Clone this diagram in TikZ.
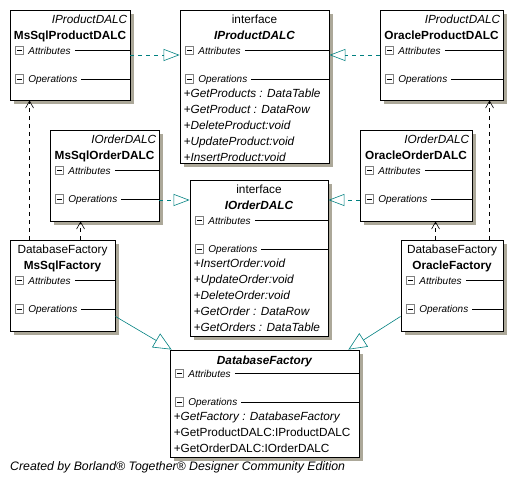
\documentclass[tikz,border=0pt]{standalone}
\usepackage{fontspec}
\setmainfont{Liberation Sans}
\usetikzlibrary{positioning, shadows, arrows.meta}

\definecolor{shadowgray}{RGB}{172,168,153}
\definecolor{linkteal}{RGB}{0,128,128}
\definecolor{boxgray}{RGB}{128,128,128}

\newcommand{\opfont}{\fontsize{11.8}{14}\selectfont}
\newcommand{\secfont}{\fontsize{10}{11}\selectfont\itshape}

\tikzset{
  umlclass/.style={draw, line width=0.9pt, fill=white, inner sep=0pt,
    drop shadow={shadow xshift=3.5pt, shadow yshift=-3.5pt, fill=shadowgray, opacity=1}},
  minusbox/.style={draw=boxgray, fill=white, line width=0.7pt, minimum size=8.5pt, inner sep=0pt,
    path picture={\draw[black, line width=0.7pt] ([xshift=2pt]path picture bounding box.west)
      -- ([xshift=-2pt]path picture bounding box.east);}},
  seclabel/.style={anchor=west, inner sep=0pt, text height=7pt, text depth=0pt, font=\secfont},
  stereo/.style={inner sep=0pt, font=\opfont},
  cname/.style={anchor=base, inner sep=0pt, font=\opfont\bfseries},
  optext/.style={anchor=base west, inner sep=0pt, font=\opfont},
  realize/.style={linkteal, line width=0.6pt, dash pattern=on 4pt off 4pt,
    -{Triangle[open, length=16pt, width=12pt]}},
  depend/.style={black, line width=0.6pt, dash pattern=on 4pt off 4pt,
    -{Straight Barb[length=7pt, width=8pt]}},
  inherit/.style={linkteal, line width=0.6pt, -{Triangle[open, length=18pt, width=16pt]}},
}

% compartments of class #1, attribute line #2 pt below its top
\newcommand{\members}[2]{%
  \node[minusbox] (#1-abox) at ([xshift=10pt, yshift=-#2pt]#1.north west) {};
  \node[seclabel] (#1-attr) at ([xshift=4pt]#1-abox.east) {Attributes};
  \draw[line width=0.8pt] ([xshift=4pt]#1-attr.east) -- (#1-attr.east -| #1.east);
  \node[minusbox] (#1-obox) at ([yshift=-28.5pt]#1-abox) {};
  \node[seclabel] (#1-oper) at ([xshift=4pt]#1-obox.east) {Operations};
  \draw[line width=0.8pt] ([xshift=4pt]#1-oper.east) -- (#1-oper.east -| #1.east);
}

% operations of class #1, first baseline #2 pt below its top
\newcommand{\oplist}[3]{%
  \foreach \op [count=\i] in {#3} {
    \pgfmathsetmacro{\dy}{#2+16*(\i-1)}
    \node[optext] (#1-op\i) at ([xshift=4pt, yshift=-\dy pt]#1.north west) {\op};
  }
}

\begin{document}
\begin{tikzpicture}[on grid, font=\opfont]
  \useasboundingbox (0,0) rectangle (514pt,-482pt);

  % classes
  \node[umlclass, minimum width=120pt, minimum height=90pt] (msprod) at (70pt,-55pt) {};
  \node[umlclass, minimum width=149pt, minimum height=153pt,
    below right=31.5pt and 184.5pt of msprod] (iprod) {};
  \node[umlclass, minimum width=123pt, minimum height=90pt, right=371.5pt of msprod] (oraprod) {};
  \node[umlclass, minimum width=109pt, minimum height=91pt,
    below right=120.5pt and 34.5pt of msprod] (msorder) {};
  \node[umlclass, minimum width=138pt, minimum height=156pt,
    below right=171.5pt and 4.5pt of iprod] (iorder) {};
  \node[umlclass, minimum width=112pt, minimum height=91pt,
    below left=120.5pt and 25.5pt of oraprod] (oraorder) {};
  \node[umlclass, minimum width=105pt, minimum height=91pt,
    below left=230.5pt and 7.5pt of msprod] (msfact) {};
  \node[umlclass, minimum width=102pt, minimum height=91pt,
    below right=230.5pt and 10.5pt of oraprod] (orafact) {};
  \node[umlclass, minimum width=189pt, minimum height=107pt,
    below right=145.5pt and 5.5pt of iorder] (dbfact) {};

  % headers
  \node[stereo, anchor=base east] (msprod-st) at ([xshift=-3pt, yshift=-14pt]msprod.north east) {\itshape IProductDALC};
  \node[cname] (msprod-name) at ([yshift=-29.5pt]msprod.north) {MsSqlProductDALC};
  \node[stereo, anchor=base] (iprod-st) at ([yshift=-14pt]iprod.north) {interface};
  \node[cname] (iprod-name) at ([yshift=-29.5pt]iprod.north) {\itshape IProductDALC};
  \node[stereo, anchor=base east] (oraprod-st) at ([xshift=-3pt, yshift=-14pt]oraprod.north east) {\itshape IProductDALC};
  \node[cname] (oraprod-name) at ([yshift=-29.5pt]oraprod.north) {OracleProductDALC};
  \node[stereo, anchor=base east] (msorder-st) at ([xshift=-3pt, yshift=-14pt]msorder.north east) {\itshape IOrderDALC};
  \node[cname] (msorder-name) at ([yshift=-29.5pt]msorder.north) {MsSqlOrderDALC};
  \node[stereo, anchor=base] (iorder-st) at ([yshift=-14pt]iorder.north) {interface};
  \node[cname] (iorder-name) at ([yshift=-29.5pt]iorder.north) {\itshape IOrderDALC};
  \node[stereo, anchor=base east] (oraorder-st) at ([xshift=-3pt, yshift=-14pt]oraorder.north east) {\itshape IOrderDALC};
  \node[cname] (oraorder-name) at ([yshift=-29.5pt]oraorder.north) {OracleOrderDALC};
  \node[stereo, anchor=base] (msfact-st) at ([yshift=-14pt]msfact.north) {DatabaseFactory};
  \node[cname] (msfact-name) at ([yshift=-29.5pt]msfact.north) {MsSqlFactory};
  \node[stereo, anchor=base] (orafact-st) at ([yshift=-14pt]orafact.north) {DatabaseFactory};
  \node[cname] (orafact-name) at ([yshift=-29.5pt]orafact.north) {OracleFactory};
  \node[cname] (dbfact-name) at ([yshift=-15pt]dbfact.north) {\itshape DatabaseFactory};

  % compartments
  \foreach \c in {msprod, iprod, oraprod, msorder, iorder, oraorder, msfact, orafact}
    {\members{\c}{41}}
  \members{dbfact}{24}

  \oplist{iprod}{88}{+\textit{GetProducts : DataTable}, +\textit{GetProduct : DataRow},
    +\textit{DeleteProduct:void}, +\textit{UpdateProduct:void}, +\textit{InsertProduct:void}}
  \oplist{iorder}{88}{+\textit{InsertOrder:void}, +\textit{UpdateOrder:void},
    +\textit{DeleteOrder:void}, +\textit{GetOrder : DataRow}, +\textit{GetOrders : DataTable}}
  \oplist{dbfact}{71}{+\textit{GetFactory : DatabaseFactory}, +GetProductDALC:IProductDALC,
    +GetOrderDALC:IOrderDALC}

  % realizations
  \coordinate (msorder-r) at ([yshift=-24.5pt]msorder.east);
  \coordinate (oraorder-r) at ([yshift=-24.5pt]oraorder.west);
  \draw[realize] (msprod.east) -- (msprod.east -| iprod.west);
  \draw[realize] (oraprod.west) -- (oraprod.west -| iprod.east);
  \draw[realize] (msorder-r) -- (msorder-r -| iorder.west);
  \draw[realize] (oraorder-r) -- (oraorder-r -| iorder.east);

  % dependencies
  \coordinate (msfact-p) at ([xshift=20pt]msfact.north west);
  \coordinate (msfact-o) at ([xshift=71pt]msfact.north west);
  \coordinate (orafact-p) at ([xshift=89pt]orafact.north west);
  \coordinate (orafact-o) at ([xshift=35pt]orafact.north west);
  \draw[depend] (msfact-p) -- (msfact-p |- msprod.south);
  \draw[depend] (msfact-o) -- (msfact-o |- msorder.south);
  \draw[depend] (orafact-p) -- (orafact-p |- oraprod.south);
  \draw[depend] (orafact-o) -- (orafact-o |- oraorder.south);

  % generalizations
  \coordinate (msfact-g) at ([yshift=15pt]msfact.south east);
  \coordinate (orafact-g) at ([yshift=15pt]orafact.south west);
  \draw[inherit] (msfact-g) -- ([xshift=2pt]dbfact.north west);
  \draw[inherit] (orafact-g) -- ([xshift=-11pt]dbfact.north east);

  \node[anchor=base west, inner sep=0pt, font=\fontsize{12.3}{14}\selectfont\itshape] (credit)
    at (10pt,-470pt) {Created by Borland® Together® Designer Community Edition};
\end{tikzpicture}
\end{document}
